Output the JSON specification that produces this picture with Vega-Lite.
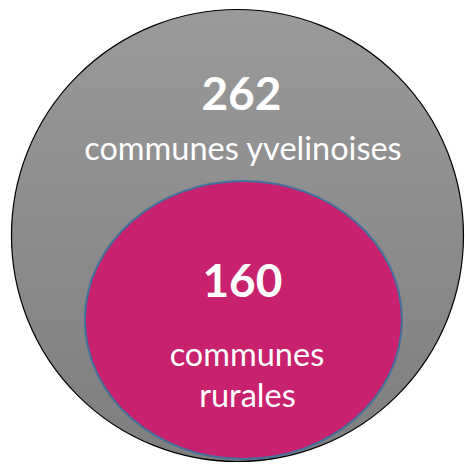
{
  "$schema": "https://vega.github.io/schema/vega-lite/v6.json",
  "width": 465,
  "height": 464,
  "autosize": {"type": "fit", "contains": "padding"},
  "padding": 0,
  "background": "white",
  "config": {"view": {"stroke": null}},
  "layer": [
    {
      "data": {"values": [{"group": "communes yvelinoises", "n": 262, "cx": 238.5, "cy": 235.5}]},
      "mark": {
        "type": "point",
        "shape": "circle",
        "filled": true,
        "size": 204304,
        "opacity": 1,
        "fill": {"gradient": "linear", "x1": 0, "y1": 0, "x2": 0, "y2": 1,
          "stops": [{"offset": 0, "color": "#9a9a9a"}, {"offset": 1, "color": "#7e7e7e"}]},
        "stroke": "#000000",
        "strokeWidth": 1.2
      },
      "encoding": {
        "x": {"field": "cx", "type": "quantitative", "scale": {"domain": [0, 465], "nice": false, "zero": false}, "axis": null},
        "y": {"field": "cy", "type": "quantitative", "scale": {"domain": [464, 0], "nice": false, "zero": false}, "axis": null}
      }
    },
    {
      "data": {"values": [{"group": "communes rurales", "n": 160, "cx": 244.5, "cy": 320}]},
      "mark": {
        "type": "point",
        "shape": "M -1 0 C -1 -0.4842 -0.5523 -0.877 0 -0.877 C 0.5523 -0.877 1 -0.4842 1 0 C 1 0.4842 0.5523 0.877 0 0.877 C -0.5523 0.877 -1 0.4842 -1 0 Z",
        "filled": true,
        "size": 100489,
        "opacity": 1,
        "fill": "#c8216d",
        "stroke": "#41719c",
        "strokeWidth": 2
      },
      "encoding": {
        "x": {"field": "cx", "type": "quantitative", "scale": {"domain": [0, 465], "nice": false, "zero": false}, "axis": null},
        "y": {"field": "cy", "type": "quantitative", "scale": {"domain": [464, 0], "nice": false, "zero": false}, "axis": null}
      }
    },
    {
      "data": {"values": [{"label": "262", "cx": 242.5, "cy": 110}, {"label": "160", "cx": 243.5, "cy": 297}]},
      "mark": {"type": "text", "font": "Lato", "fontWeight": "bold", "fontSize": 46, "color": "white", "align": "center", "baseline": "alphabetic"},
      "encoding": {
        "x": {"field": "cx", "type": "quantitative", "scale": {"domain": [0, 465], "nice": false, "zero": false}, "axis": null},
        "y": {"field": "cy", "type": "quantitative", "scale": {"domain": [464, 0], "nice": false, "zero": false}, "axis": null},
        "text": {"field": "label"}
      }
    },
    {
      "data": {"values": [{"label": "communes yvelinoises", "cx": 244, "cy": 160}, {"label": "communes", "cx": 248, "cy": 366}, {"label": "rurales", "cx": 248.5, "cy": 407}]},
      "mark": {"type": "text", "font": "Lato", "fontSize": 32.5, "color": "white", "align": "center", "baseline": "alphabetic"},
      "encoding": {
        "x": {"field": "cx", "type": "quantitative", "scale": {"domain": [0, 465], "nice": false, "zero": false}, "axis": null},
        "y": {"field": "cy", "type": "quantitative", "scale": {"domain": [464, 0], "nice": false, "zero": false}, "axis": null},
        "text": {"field": "label"}
      }
    }
  ]
}
